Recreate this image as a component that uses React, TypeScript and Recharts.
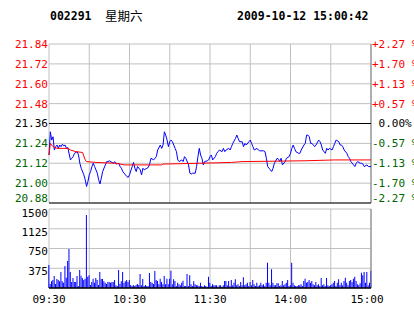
import React from 'react';
import {
  Bar,
  BarChart,
  CartesianGrid,
  Line,
  LineChart,
  ReferenceLine,
  XAxis,
  YAxis,
} from 'recharts';

// header text
const stockCode = '002291';
const weekDay = '星期六';
const stamp = '2009-10-12 15:00:42';

const prevClose = 21.36;

// price axis
const priceTicks = [20.88, 21.0, 21.12, 21.24, 21.36, 21.48, 21.6, 21.72, 21.84];
const priceTickLabels = ['20.88', '21.00', '21.12', '21.24', '21.36', '21.48', '21.60', '21.72', '21.84'];
const pctTickLabels = ['-2.27 %', '-1.70 %', '-1.13 %', '-0.57 %', ' 0.00%', '+0.57 %', '+1.13 %', '+1.70 %', '+2.27 %'];

// volume axis
const volTicks = [0, 375, 750, 1125, 1500];
const volTickLabels = ['', '375', '750', '1125', '1500'];

// minutes since open (0..240, lunch break removed)
const timeTicks = [0, 30, 60, 90, 120, 150, 180, 210, 240];
const timeTickLabels: Record<number, string> = {
  0: '09:30',
  60: '10:30',
  120: '11:30',
  180: '14:00',
  240: '15:00',
};

// price line
const priceMinutes = [
  0, 1, 2, 3, 4, 5, 6, 7, 8, 9, 10, 11, 12, 13, 14, 16, 17, 18, 19, 21,
  22, 23, 24, 26, 27, 28, 29, 30, 31, 32, 33, 34, 36, 37, 38, 39, 40, 42, 43, 44,
  45, 47, 48, 49, 50, 52, 53, 54, 55, 57, 58, 59, 60, 62, 63, 64, 65, 66, 68, 69,
  70, 71, 73, 74, 75, 76, 78, 79, 80, 81, 83, 84, 85, 86, 87, 88, 89, 90, 91, 92,
  94, 95, 96, 97, 99, 100, 101, 102, 104, 105, 106, 107, 109, 110, 111, 112, 113, 114, 115, 116,
  118, 119, 120, 121, 122, 124, 125, 126, 127, 129, 130, 131, 132, 134, 135, 136, 137, 139, 140, 141,
  142, 144, 145, 146, 147, 149, 150, 151, 152, 153, 155, 156, 157, 160, 161, 162, 163, 164, 165, 166,
  167, 168, 170, 171, 172, 173, 174, 176, 177, 179, 180, 181, 182, 183, 184, 186, 187, 188, 190, 191,
  192, 193, 194, 195, 196, 197, 198, 199, 201, 202, 203, 204, 206, 207, 208, 209, 211, 212, 213, 214,
  216, 217, 218, 219, 220, 222, 223, 224, 225, 227, 228, 229, 230, 232, 233, 234, 235, 237, 238, 240,
];
const priceValues = [
  21.17, 21.31, 21.26, 21.28, 21.2, 21.22, 21.23, 21.21, 21.23, 21.22, 21.235, 21.225, 21.23, 21.21, 21.215, 21.14, 21.15, 21.16, 21.18, 21.19,
  21.17, 21.12, 21.09, 21.05, 21.02, 20.98, 21.01, 21.05, 21.07, 21.1, 21.12, 21.1, 21.06, 21.02, 20.995, 21.03, 21.07, 21.11, 21.13, 21.13,
  21.135, 21.125, 21.12, 21.13, 21.115, 21.12, 21.1, 21.09, 21.07, 21.05, 21.04, 21.035, 21.05, 21.1, 21.125, 21.09, 21.07, 21.1, 21.08, 21.05,
  21.09, 21.08, 21.09, 21.095, 21.115, 21.15, 21.14, 21.15, 21.16, 21.2, 21.23, 21.21, 21.23, 21.31, 21.29, 21.26, 21.22, 21.25, 21.26, 21.25,
  21.21, 21.19, 21.14, 21.13, 21.14, 21.13, 21.16, 21.15, 21.11, 21.06, 21.055, 21.06, 21.06, 21.1, 21.16, 21.21, 21.17, 21.15, 21.11, 21.13,
  21.135, 21.14, 21.16, 21.17, 21.14, 21.16, 21.18, 21.19, 21.2, 21.19, 21.21, 21.19, 21.2, 21.21, 21.2, 21.22, 21.24, 21.27, 21.29, 21.27,
  21.25, 21.25, 21.22, 21.24, 21.23, 21.25, 21.26, 21.24, 21.22, 21.2, 21.21, 21.2, 21.195, 21.195, 21.19, 21.15, 21.1, 21.09, 21.08, 21.07,
  21.09, 21.12, 21.15, 21.145, 21.13, 21.15, 21.11, 21.13, 21.15, 21.16, 21.18, 21.21, 21.23, 21.21, 21.19, 21.18, 21.18, 21.2, 21.23, 21.24,
  21.29, 21.29, 21.28, 21.24, 21.24, 21.23, 21.22, 21.23, 21.26, 21.25, 21.23, 21.2, 21.18, 21.21, 21.2, 21.21, 21.2, 21.22, 21.24, 21.26,
  21.25, 21.23, 21.23, 21.22, 21.2, 21.18, 21.16, 21.15, 21.13, 21.11, 21.1, 21.12, 21.13, 21.12, 21.12, 21.115, 21.1, 21.11, 21.1, 21.1,
];

// average price line
const avgMinutes = [0, 1, 3, 6, 14, 16, 20, 25, 27, 28, 35, 50, 56, 84, 85, 112, 136, 144, 191, 213, 240];
const avgValues = [
  21.17, 21.24, 21.22, 21.21, 21.21, 21.2, 21.19, 21.185, 21.14, 21.13, 21.125,
  21.12, 21.11, 21.11, 21.115, 21.12, 21.125, 21.13, 21.135, 21.14, 21.14,
];

// volume per minute, 241 bars
const volumes = [
  437, 76, 127, 152, 228, 76, 171, 152, 127, 304,
  127, 101, 418, 196, 513, 741, 304, 114, 190, 114,
  114, 228, 38, 342, 234, 190, 152, 177, 1386, 215,
  240, 57, 114, 177, 101, 190, 152, 57, 304, 171,
  171, 127, 101, 76, 114, 114, 101, 114, 114, 152,
  51, 38, 342, 76, 127, 304, 101, 127, 152, 114,
  152, 57, 38, 57, 38, 57, 76, 57, 266, 51,
  171, 38, 57, 38, 38, 285, 114, 101, 76, 323,
  152, 133, 70, 177, 114, 70, 228, 70, 177, 70,
  177, 329, 70, 165, 133, 38, 101, 70, 51, 101,
  139, 38, 38, 266, 38, 240, 70, 38, 127, 70,
  51, 51, 38, 101, 38, 25, 51, 38, 25, 215,
  101, 38, 70, 51, 51, 51, 25, 51, 51, 25,
  51, 133, 133, 51, 133, 38, 152, 51, 101, 165,
  51, 70, 38, 114, 51, 203, 51, 70, 101, 38,
  114, 51, 152, 70, 38, 101, 38, 51, 101, 51,
  70, 38, 101, 481, 101, 51, 354, 101, 51, 51,
  89, 89, 38, 51, 133, 51, 70, 101, 152, 38,
  51, 481, 101, 51, 38, 38, 51, 51, 70, 38,
  133, 177, 101, 114, 152, 101, 133, 70, 51, 114,
  51, 70, 38, 190, 51, 70, 38, 190, 51, 38,
  51, 70, 101, 133, 38, 101, 165, 51, 101, 51,
  133, 196, 101, 51, 133, 152, 114, 177, 215, 133,
  70, 51, 89, 291, 240, 304, 101, 304, 51, 101,
  329,
];

const priceData = priceMinutes.map((t, i) => ({ t, p: priceValues[i] }));
const avgData = avgMinutes.map((t, i) => ({ t, a: avgValues[i] }));
const volData = volumes.map((v, t) => ({ t, v }));

const FONT = "'DejaVu Sans Mono', monospace";
const GRID = '#c0c0c0';
const GREEN = '#006400';

const tickColor = (v: number) =>
  v > prevClose + 1e-6 ? '#ff0000' : v < prevClose - 1e-6 ? GREEN : '#000000';

const PriceTick = ({ x, y, payload, index }: any) => (
  <text
    x={x}
    y={y + (index === 0 ? -5 : 0)}
    dy="0.36em"
    textAnchor="end"
    fontFamily={FONT}
    fontSize={11}
    fill={tickColor(payload.value)}
  >
    {priceTickLabels[index]}
  </text>
);

const PctTick = ({ x, y, payload, index }: any) => (
  <text
    x={x}
    y={y + (index === 0 ? -5 : 0)}
    dy="0.36em"
    textAnchor="start"
    fontFamily={FONT}
    fontSize={11}
    fill={tickColor(payload.value)}
    style={{ whiteSpace: 'pre' }}
  >
    {pctTickLabels[index]}
  </text>
);

const VolTick = ({ x, y, index }: any) => (
  <text
    x={x}
    y={y + (index === 4 ? 4 : 3)}
    dy="0.36em"
    textAnchor="end"
    fontFamily={FONT}
    fontSize={11}
    fill="#000"
  >
    {volTickLabels[index]}
  </text>
);

const TimeTick = ({ x, y, payload }: any) => {
  const label = timeTickLabels[payload.value];
  if (!label) return null;
  const shift = payload.value === 240 ? -4 : 0;
  return (
    <text x={x + shift} y={y + 14.5} textAnchor="middle" fontFamily={FONT} fontSize={11} fill="#000">
      {label}
    </text>
  );
};

export default function App() {
  return (
    <div style={{ position: 'absolute', left: 0, top: 0, width: 414, height: 314, background: '#fff', fontFamily: FONT }}>
      <div style={{ position: 'absolute', left: 50, top: 9, fontSize: 11.5, fontWeight: 'bold', lineHeight: '14px', whiteSpace: 'pre' }}>
        {stockCode}
      </div>
      <div style={{ position: 'absolute', left: 105, top: 8, fontSize: 12.5, fontFamily: "'Noto Sans CJK SC', sans-serif", lineHeight: '16px' }}>
        {weekDay}
      </div>
      <div style={{ position: 'absolute', left: 237, top: 9, fontSize: 11.5, fontWeight: 'bold', lineHeight: '14px', whiteSpace: 'pre' }}>
        {stamp}
      </div>

      <div style={{ position: 'absolute', left: 0, top: 0 }}>
        <LineChart width={414} height={210} margin={{ top: 44, right: 0, bottom: 7, left: 0 }}>
          <CartesianGrid stroke={GRID} strokeWidth={1} yAxisId="left" />
          <XAxis dataKey="t" type="number" domain={[0, 240]} ticks={timeTicks} hide allowDuplicatedCategory={false} />
          <YAxis
            yAxisId="left"
            orientation="left"
            width={49}
            domain={[20.88, 21.84]}
            ticks={priceTicks}
            axisLine={false}
            tickLine={false}
            tickSize={0}
            tickMargin={1}
            tick={<PriceTick />}
            interval={0}
          />
          <YAxis
            yAxisId="right"
            orientation="right"
            width={43}
            domain={[20.88, 21.84]}
            ticks={priceTicks}
            axisLine={false}
            tickLine={false}
            tickSize={0}
            tickMargin={1}
            tick={<PctTick />}
            interval={0}
          />
          <ReferenceLine yAxisId="left" x={240} stroke="#808080" />
          <ReferenceLine yAxisId="left" y={21.36} stroke="#000" />
          <ReferenceLine yAxisId="left" y={20.88} stroke="#000" />
          <Line
            yAxisId="left"
            data={priceData}
            dataKey="p"
            type="linear"
            stroke="#0000ff"
            strokeWidth={1}
            dot={false}
            isAnimationActive={false}
          />
          <Line
            yAxisId="right"
            data={avgData}
            dataKey="a"
            type="linear"
            stroke="#ff0000"
            strokeWidth={1}
            dot={false}
            isAnimationActive={false}
          />
        </LineChart>
      </div>

      <div style={{ position: 'absolute', left: 0, top: 200 }}>
        <BarChart width={414} height={114} data={volData} margin={{ top: 9, right: 43, bottom: 0, left: 0 }}>
          <CartesianGrid stroke={GRID} strokeWidth={1} />
          <XAxis
            dataKey="t"
            type="number"
            domain={[0, 240]}
            ticks={timeTicks}
            height={26}
            axisLine={false}
            tickLine={false}
            tickSize={0}
            tickMargin={0}
            tick={<TimeTick />}
            interval={0}
          />
          <YAxis
            width={49}
            domain={[0, 1500]}
            ticks={volTicks}
            axisLine={false}
            tickLine={false}
            tickSize={0}
            tickMargin={1}
            tick={<VolTick />}
            interval={0}
          />
          <ReferenceLine x={240} stroke="#808080" />
          <ReferenceLine y={0} stroke="#000" strokeWidth={1.5} />
          <Bar dataKey="v" fill="#0000ff" barSize={1} isAnimationActive={false} />
        </BarChart>
      </div>
    </div>
  );
}
